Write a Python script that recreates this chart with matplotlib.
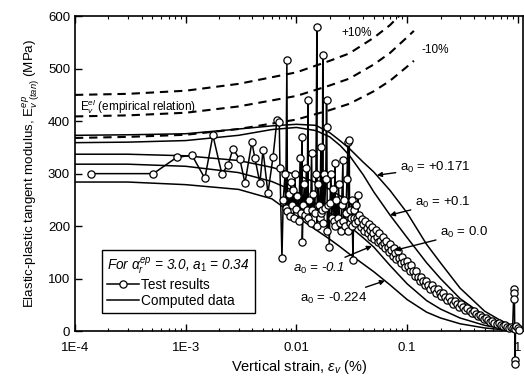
import matplotlib
matplotlib.use("Agg")
import matplotlib.pyplot as plt
from matplotlib.lines import Line2D
from matplotlib.ticker import LogLocator, NullFormatter, FixedLocator, FixedFormatter

plt.rcParams["font.family"] = ["Liberation Sans", "DejaVu Sans"]
plt.rcParams["mathtext.fontset"] = "custom"
plt.rcParams["mathtext.rm"] = "Liberation Sans"
plt.rcParams["mathtext.it"] = "Liberation Sans:italic"

# Test results (vertical strain in %, tangent modulus in MPa)
test_strain = [
    1.4e-4, 5.1e-4, 8.3e-4, 1.14e-3, 1.49e-3, 1.76e-3, 2.12e-3, 2.41e-3, 2.67e-3, 3.09e-3,
    3.43e-3, 3.96e-3, 4.22e-3, 4.68e-3, 4.99e-3, 5.53e-3, 6.14e-3, 6.67e-3, 7.0e-3,
    0.0071, 0.0074, 0.0076, 0.0079, 0.0080, 0.0082, 0.0083, 0.0085, 0.0087, 0.0089,
    0.0091, 0.0093, 0.0095, 0.0097, 0.0099, 0.0102, 0.0105, 0.0108, 0.0110, 0.0112,
    0.0113, 0.0115, 0.0118, 0.0120, 0.0123, 0.0125, 0.0127, 0.0128, 0.0131, 0.0134,
    0.0137, 0.0139, 0.0142, 0.0146, 0.0150, 0.0153, 0.0154, 0.0157, 0.0160, 0.0163,
    0.0166, 0.0168, 0.0171, 0.0173, 0.0174, 0.0177, 0.0180, 0.0184, 0.0187, 0.0188,
    0.0190, 0.0194, 0.0198, 0.0201, 0.0205, 0.0209, 0.0214, 0.0219, 0.0223, 0.0225,
    0.0230, 0.0236, 0.0240, 0.0245, 0.0250, 0.0256, 0.0263, 0.0265, 0.0270, 0.0276,
    0.0280, 0.0286, 0.0292, 0.0295, 0.0300, 0.0302, 0.0306, 0.0310, 0.0315, 0.0320,
    0.0324, 0.0328, 0.0334, 0.0340, 0.0347, 0.0353, 0.0359, 0.0362,
    0.037, 0.038, 0.039, 0.040, 0.041, 0.042, 0.043, 0.044, 0.045, 0.046,
    0.047, 0.048, 0.049, 0.050, 0.052, 0.053, 0.054, 0.056, 0.057, 0.059,
    0.060, 0.062, 0.063, 0.065, 0.067, 0.068, 0.070, 0.072, 0.074, 0.076,
    0.078, 0.080, 0.082, 0.085, 0.088, 0.090, 0.093, 0.096, 0.099, 0.102,
    0.106, 0.109, 0.113, 0.117, 0.121, 0.125, 0.130, 0.134, 0.139, 0.144,
    0.149, 0.155, 0.161, 0.167, 0.174, 0.181, 0.188, 0.196, 0.204, 0.212,
    0.221, 0.230, 0.240, 0.250, 0.261, 0.272, 0.284, 0.296, 0.309, 0.322,
    0.336, 0.350, 0.366, 0.382, 0.399, 0.416, 0.434, 0.453, 0.473, 0.494,
    0.516, 0.539, 0.563, 0.588, 0.614, 0.641, 0.670, 0.700, 0.731, 0.763,
    0.797, 0.832, 0.869, 0.895, 0.920, 0.925, 0.930, 0.935, 0.940, 0.945,
    0.950, 0.970, 1.000, 1.030]
test_E = [
    300, 300, 331, 335, 291, 373, 300, 316, 347, 327,
    282, 360, 329, 282, 345, 263, 331, 402, 398,
    310, 139, 250, 300, 235, 516, 228, 262, 220, 285,
    240, 268, 215, 300, 232, 258, 210, 330, 225, 370,
    170, 240, 280, 222, 310, 230, 440, 215, 250, 205,
    340, 230, 262, 225, 300, 579, 200, 280, 240, 215,
    350, 225, 230, 526, 205, 300, 235, 290, 440, 389,
    190, 240, 160, 245, 300, 215, 270, 210, 320, 200,
    250, 215, 280, 205, 190, 240, 326, 210, 250, 200,
    225, 290, 360, 190, 364, 205, 230, 215, 250, 200,
    135, 215, 230, 205, 240, 215, 259, 210,
    222, 198, 214, 204, 190, 210, 196, 186, 204, 192,
    180, 198, 186, 176, 192, 180, 170, 186, 172, 164,
    180, 168, 158, 172, 160, 150, 166, 154, 144, 158,
    148, 138, 152, 140, 130, 142, 132, 122, 134, 124,
    114, 125, 114, 105, 114, 104, 96, 104, 95, 88,
    96, 87, 80, 88, 80, 73, 80, 72, 66, 72,
    65, 59, 65, 58, 52, 58, 51, 46, 51, 45,
    40, 44, 38, 34, 38, 32, 28, 31, 26, 23,
    25, 21, 18, 20, 16, 13, 15, 11, 9, 11,
    8, 6, 7, 5, 80, 72, 62, 5, -55, -62,
    4, 10, 5, 3]

# Computed curves for different a0 values
comp_strain = [1e-4, 3e-4, 1e-3, 3e-3, 6e-3, 0.01, 0.015, 0.02, 0.025, 0.03,
               0.04, 0.05, 0.07, 0.1, 0.15, 0.2, 0.3, 0.5, 0.7, 1.0]
comp_E_p0171 = [373, 374, 376, 385, 391, 394, 392, 378, 362, 348,
                322, 303, 268, 225, 165, 130, 82, 38, 20, 6]
comp_E_p01 = [359, 360, 363, 373, 384, 388, 382, 370, 353, 335,
              298, 265, 221, 178, 130, 100, 62, 29, 14, 5]
comp_E_00 = [337, 337, 334, 325, 312, 298, 283, 270, 257, 245,
             218, 195, 160, 125, 88, 68, 44, 21, 10, 3]
comp_E_m01 = [318, 318, 314, 302, 285, 265, 243, 225, 212, 200,
              178, 160, 125, 90, 58, 42, 25, 11, 5, 2]
comp_E_m0224 = [284, 284, 279, 270, 252, 218, 193, 175, 160, 147,
                128, 113, 88, 60, 36, 25, 14, 6, 3, 1]

# Empirical elastic modulus and +/-10% bounds
el_strain = [1e-4, 3e-4, 1e-3, 3e-3, 0.01, 0.02, 0.03, 0.05, 0.07, 0.1, 0.115]
el_E = [409, 411, 416, 428, 448, 468, 481, 508, 530, 560, 572]
el_E_plus = [450, 452, 458, 471, 493, 515, 529, 559, 583, 616, 629]
el_E_minus = [368, 370, 374, 385, 403, 421, 433, 457, 477, 504, 515]

xtick_vals = [1e-4, 1e-3, 0.01, 0.1, 1]
xtick_labels = ["1E-4", "1E-3", "0.01", "0.1", "1"]

fig = plt.figure(figsize=(5.24, 3.85), dpi=100)
ax = fig.add_axes([0.143, 0.140, 0.855, 0.818])

dash = (0, (4, 2.8))
for E in (el_E_plus, el_E, el_E_minus):
    ax.plot(el_strain, E, color="k", lw=1.5, linestyle=dash)

for E in (comp_E_p0171, comp_E_p01, comp_E_00, comp_E_m01, comp_E_m0224):
    ax.plot(comp_strain, E, color="k", lw=1.1)

ax.plot(test_strain, test_E, "-o", color="k", lw=1.1, ms=5.2, mfc="white",
        mec="k", mew=0.9, clip_on=False, zorder=3)

ax.set_xscale("log")
ax.set_xlim(1e-4, 1.11)
ax.set_ylim(0, 600)
ax.xaxis.set_major_locator(FixedLocator(xtick_vals))
ax.xaxis.set_major_formatter(FixedFormatter(xtick_labels))
ax.xaxis.set_minor_locator(LogLocator(base=10, subs=range(2, 10)))
ax.xaxis.set_minor_formatter(NullFormatter())
ax.set_yticks(range(0, 601, 100))
ax.tick_params(which="both", direction="in", top=True, right=False, labelsize=9.5)
ax.tick_params(which="major", length=5, width=1)
ax.tick_params(axis="x", which="major", pad=8)
ax.tick_params(which="minor", length=2.5, width=0.8)
for s in ax.spines.values():
    s.set_linewidth(1.2)

ax.set_xlabel("Vertical strain, $\\epsilon_v$ (%)", fontsize=10.5, labelpad=3)
ax.set_ylabel("Elastic-plastic tangent modulus, E$^{ep}_{v\\ (tan)}$ (MPa)", fontsize=9.6)

# Labels on the curves
ax.text(1.12e-4, 427, "E$_v^{el}$ (empirical relation)", fontsize=8.5, va="center")
ax.text(0.0352, 568, "+10%", fontsize=8.5, ha="center", va="center")
ax.text(0.136, 535, "-10%", fontsize=8.5, ha="left", va="center")

arrow = dict(arrowstyle="-|>", color="k", lw=1.0, mutation_scale=7, shrinkA=1, shrinkB=0)
ax.annotate("a$_0$ = +0.171", xy=(0.0533, 297), xytext=(0.0859, 312),
            fontsize=9.5, va="center", arrowprops=arrow)
ax.annotate("a$_0$ = +0.1", xy=(0.0698, 221), xytext=(0.1175, 246),
            fontsize=9.5, va="center", arrowprops=arrow)
ax.annotate("a$_0$ = 0.0", xy=(0.0776, 154), xytext=(0.198, 187),
            fontsize=9.5, va="center", arrowprops=arrow)
ax.annotate("a$_0$ = -0.1", xy=(0.048, 162), xytext=(0.00929, 120),
            fontsize=9.5, va="center", style="italic", arrowprops=arrow)
ax.annotate("a$_0$ = -0.224", xy=(0.063, 96), xytext=(0.01076, 63),
            fontsize=9.5, va="center", arrowprops=arrow)

handles = [Line2D([], [], color="k", lw=1.1, marker="o", ms=5.2, mfc="white", mec="k", mew=0.9),
           Line2D([], [], color="k", lw=1.1)]
leg = ax.legend(handles, ["Test results", "Computed data"],
                title="For $\\alpha_r^{ep}$ = 3.0, $a_1$ = 0.34",
                title_fontproperties={"style": "italic", "size": 9.8},
                loc="lower left", bbox_to_anchor=(0.06, 0.057), fontsize=9.8,
                frameon=True, fancybox=False, edgecolor="k", framealpha=1,
                alignment="left", handlelength=2.3, handletextpad=0.2,
                borderpad=0.4, labelspacing=0.15, borderaxespad=0)
leg.get_frame().set_linewidth(1.0)

fig.savefig("out.png", dpi=100)
